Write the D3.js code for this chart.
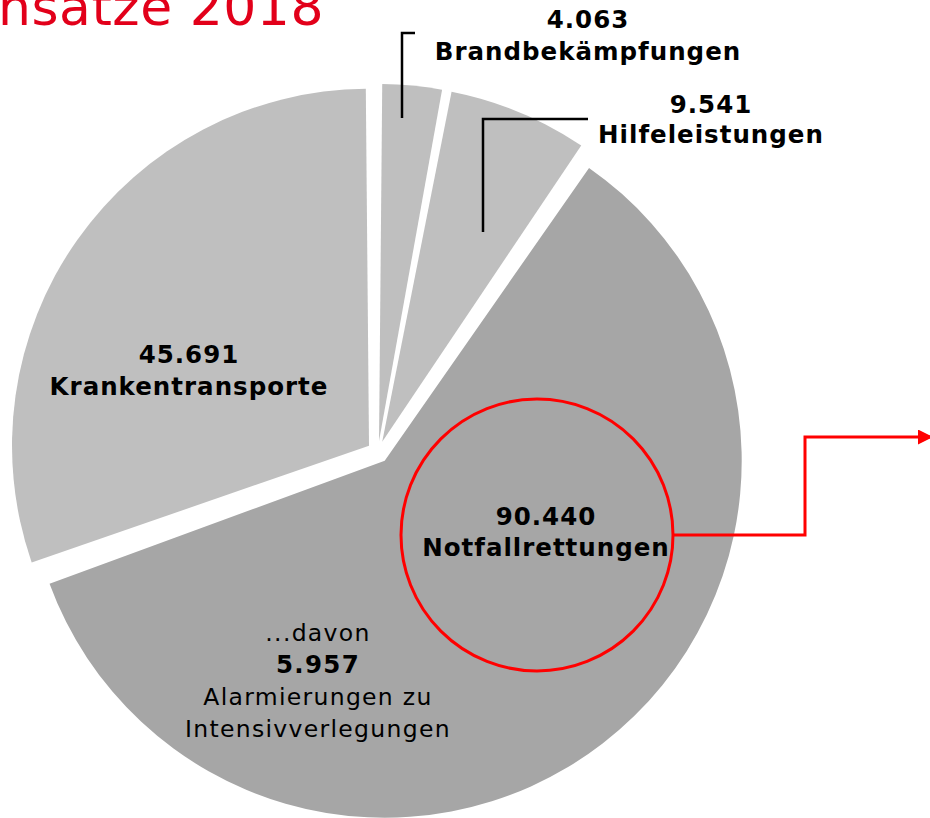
<!DOCTYPE html>
<html>
<head>
<meta charset="utf-8">
<script src="https://cdn.jsdelivr.net/npm/d3@7"></script>
<style>
  body { margin: 0; background: #fff; }
  svg { display: block; font-family: "DejaVu Sans", Verdana, sans-serif; }
</style>
</head>
<body>
<svg id="pie" width="930" height="818"></svg>
<script>
// data
let categories = ["Brandbekämpfungen", "Hilfeleistungen", "Notfallrettungen", "Krankentransporte"];
let values = [4063, 9541, 90440, 45691];
let intensivValue = 5957;
let titleText = "Einsätze 2018";

let colors = ["#bfbfbf", "#bfbfbf", "#a6a6a6", "#bfbfbf"];

let svg = d3.select("#pie");
let radius = 357,
    cx = 378,
    cy = 452,
    explode = 11;

let de = d3.formatLocale({ decimal: ",", thousands: ".", grouping: [3], currency: ["", " €"] });
let fmt = de.format(",");

let pie = d3.pie().sort(null).value((d) => d).padAngle(0.018);
let arc = d3.arc().innerRadius(0).outerRadius(radius);
let arcs = pie(values);

let g = svg.append("g").attr("transform", "translate(" + cx + "," + cy + ")");

g.selectAll(".slice")
    .data(arcs)
    .enter()
    .append("path")
    .attr("class", "slice")
    .attr("d", arc)
    .attr("fill", (d, i) => colors[i])
    .attr("transform", function (d) {
        let mid = (d.startAngle + d.endAngle) / 2;
        return "translate(" + explode * Math.sin(mid) + "," + -explode * Math.cos(mid) + ")";
    });

// title (cut at the left edge like the original)
svg.append("text")
    .attr("x", 324)
    .attr("y", 25)
    .attr("text-anchor", "end")
    .attr("fill", "#e2001a")
    .attr("font-size", 52)
    .attr("letter-spacing", 0.5)
    .text(titleText);

// leader lines
let lines = [
    [[415, 33], [402, 33], [402, 118]],
    [[588, 119], [483, 119], [483, 232]]
];
svg.selectAll(".leader")
    .data(lines)
    .enter()
    .append("path")
    .attr("class", "leader")
    .attr("d", d3.line())
    .attr("fill", "none")
    .attr("stroke", "#000")
    .attr("stroke-width", 2.5);

// labels: [category index, x, value baseline, name baseline]
let labelPos = [
    [0, 588, 28, 60],
    [1, 711, 113, 143],
    [3, 189, 363, 395],
    [2, 546, 525, 556]
];
labelPos.forEach(function (p) {
    let t = svg.append("text")
        .attr("text-anchor", "middle")
        .attr("font-weight", "bold")
        .attr("font-size", 24.5)
        .attr("letter-spacing", 1)
        .attr("fill", "#000");
    t.append("tspan").attr("x", p[1]).attr("y", p[2]).text(fmt(values[p[0]]));
    t.append("tspan").attr("x", p[1]).attr("y", p[3]).text(categories[p[0]]);
});

// red highlight circle + arrow
svg.append("defs")
    .append("marker")
    .attr("id", "arrow")
    .attr("viewBox", "0 0 10 10")
    .attr("refX", 10)
    .attr("refY", 5)
    .attr("markerUnits", "userSpaceOnUse")
    .attr("markerWidth", 24)
    .attr("markerHeight", 15)
    .attr("orient", "auto")
    .append("path")
    .attr("d", "M0,0L10,5L0,10Z")
    .attr("fill", "#ff0000");

svg.append("circle")
    .attr("cx", 537)
    .attr("cy", 535)
    .attr("r", 136)
    .attr("fill", "none")
    .attr("stroke", "#ff0000")
    .attr("stroke-width", 3);

svg.append("path")
    .attr("d", d3.line()([[673, 535], [805, 535], [805, 437], [933, 437]]))
    .attr("fill", "none")
    .attr("stroke", "#ff0000")
    .attr("stroke-width", 3)
    .attr("marker-end", "url(#arrow)");

// sub note in Notfall slice
let note = svg.append("text")
    .attr("text-anchor", "middle")
    .attr("font-size", 23.5)
    .attr("letter-spacing", 1.3)
    .attr("fill", "#000");
note.append("tspan").attr("x", 318).attr("y", 641).text("...davon");
note.append("tspan").attr("x", 318).attr("y", 673).attr("font-weight", "bold").attr("font-size", 24.5).text(fmt(intensivValue));
note.append("tspan").attr("x", 318).attr("y", 705).text("Alarmierungen zu");
note.append("tspan").attr("x", 318).attr("y", 737).text("Intensivverlegungen");
</script>
</body>
</html>
